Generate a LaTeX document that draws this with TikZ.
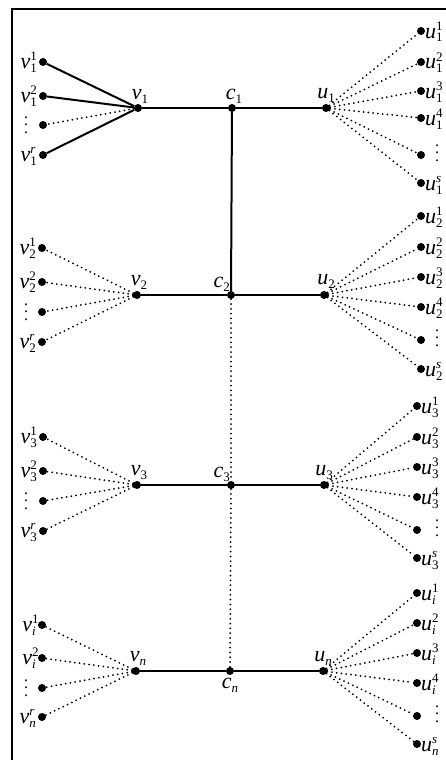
\documentclass[tikz,border=0pt]{standalone}
\usepackage{fontspec}
\setmainfont{Liberation Serif}
\newcommand\lbsup[3]{{\fontsize{22}{22}\selectfont\itshape #1}\makebox[0pt][l]{\raisebox{7.5pt}{\fontsize{13}{13}\selectfont #2}}\raisebox{-4pt}{\fontsize{13}{13}\selectfont #3}}
\newcommand\lbsub[2]{{\fontsize{22}{22}\selectfont\itshape #1}\raisebox{-4pt}{\fontsize{13}{13}\selectfont #2}}
\newcommand\vdts{\fontsize{16}{16}\selectfont\vbox{\baselineskip7.5pt\lineskiplimit0pt\hbox{.}\hbox{.}\hbox{.}}}
\begin{document}
\begin{tikzpicture}[x=1pt,y=-1pt,
  dotn/.style={circle,fill=black,inner sep=0pt,minimum size=8pt},
  solidln/.style={line width=2pt},
  dotln/.style={line width=2pt,dash pattern=on 0pt off 4.8pt,line cap=round},
  lab/.style={inner sep=0pt}]
\useasboundingbox (0,0) rectangle (446,760);
\fill[white] (0,0) rectangle (446,760);
\draw[line width=2.2pt] (447,9) -- (12,9) -- (12,762);

% hubs
\node[dotn] (v1) at (138,108) {};
\node[dotn] (c1) at (232,108) {};
\node[dotn] (u1) at (326,108) {};
\node[dotn] (v2) at (137,295) {};
\node[dotn] (c2) at (231,295) {};
\node[dotn] (u2) at (324,295) {};
\node[dotn] (v3) at (137,485) {};
\node[dotn] (c3) at (231,485) {};
\node[dotn] (u3) at (324,485) {};
\node[dotn] (vn) at (136,671) {};
\node[dotn] (cn) at (230,671) {};
\node[dotn] (un) at (323,671) {};

% hub labels
\node[lab,anchor=south] (lv1) at ([xshift=2pt,yshift=0pt]v1.north) {\lbsub{v}{1}};
\node[lab,anchor=south] (lc1) at ([xshift=2pt,yshift=0pt]c1.north) {\lbsub{c}{1}};
\node[lab,anchor=south] (lu1) at ([xshift=0pt,yshift=1pt]u1.north) {\lbsub{u}{1}};
\node[lab,anchor=south] (lv2) at ([xshift=2pt,yshift=1pt]v2.north) {\lbsub{v}{2}};
\node[lab,anchor=south east] (lc2) at ([xshift=-1pt,yshift=3pt]c2.center) {\lbsub{c}{2}};
\node[lab,anchor=south] (lu2) at ([xshift=2pt,yshift=2pt]u2.north) {\lbsub{u}{2}};
\node[lab,anchor=south] (lv3) at ([xshift=2pt,yshift=1pt]v3.north) {\lbsub{v}{3}};
\node[lab,anchor=south east] (lc3) at ([xshift=-1pt,yshift=3pt]c3.center) {\lbsub{c}{3}};
\node[lab,anchor=south] (lu3) at ([xshift=0pt,yshift=1pt]u3.north) {\lbsub{u}{3}};
\node[lab,anchor=south] (lvn) at ([xshift=2pt,yshift=1pt]vn.north) {\lbsub{v}{\textit{n}}};
\node[lab,anchor=north] (lcn) at ([yshift=-3pt]cn.south) {\lbsub{c}{\textit{n}}};
\node[lab,anchor=south] (lun) at ([xshift=0pt,yshift=1pt]un.north) {\lbsub{u}{\textit{n}}};

% spine
\draw[solidln] (v1) -- (c1) -- (u1);
\draw[solidln] (v2) -- (c2) -- (u2);
\draw[solidln] (v3) -- (c3) -- (u3);
\draw[solidln] (vn) -- (cn) -- (un);
\draw[solidln] (c1) -- (c2);
\draw[dotln] (c2) -- (c3) -- (cn);

% leaves
\foreach \ga/\sbA/\sbB/\sty/\lx/\ya/\yb/\yd/\yr/\rx/\ra/\rb/\rc/\rd/\re/\rf in {
  1/1/1/solidln/43/62/96/125/155/421/31/62/91/118/155/183,
  2/2/2/dotln/42/248/282/312/342/421/216/247/277/307/340/369,
  3/3/3/dotln/43/437/471/501/531/417/406/437/467/497/530/558,
  n/\textit{i}/\textit{n}/dotln/42/625/658/688/717/417/593/623/653/683/716/744}{
  \node[dotn] (v\ga a) at (\lx,\ya) {};
  \node[dotn] (v\ga b) at (\lx,\yb) {};
  \node[dotn] (v\ga d) at (\lx,\yd) {};
  \node[dotn] (v\ga r) at (\lx,\yr) {};
  \node[lab,anchor=base east] (lv\ga a) at ([xshift=-6pt,yshift=-6pt]v\ga a.center) {\lbsup{v}{1}{\sbA}};
  \node[lab,anchor=base east] (lv\ga b) at ([xshift=-6pt,yshift=-6pt]v\ga b.center) {\lbsup{v}{2}{\sbA}};
  \node[lab] (lv\ga d) at (26,\yd) {\vdts};
  \node[lab,anchor=base east] (lv\ga r) at ([xshift=-6pt,yshift=-6pt]v\ga r.center) {\lbsup{v}{\textit{r}}{\sbB}};
  \draw[\sty] (v\ga) -- (v\ga a);
  \draw[\sty] (v\ga) -- (v\ga b);
  \draw[dotln] (v\ga) -- (v\ga d);
  \draw[\sty] (v\ga) -- (v\ga r);
  \node[dotn] (u\ga a) at (\rx,\ra) {};
  \node[dotn] (u\ga b) at (\rx,\rb) {};
  \node[dotn] (u\ga c) at (\rx,\rc) {};
  \node[dotn] (u\ga d) at (\rx,\rd) {};
  \node[dotn] (u\ga e) at (\rx,\re) {};
  \node[dotn] (u\ga f) at (\rx,\rf) {};
  \node[lab,anchor=base west] (lu\ga a) at ([xshift=4pt,yshift=-7pt]u\ga a.center) {\lbsup{u}{1}{\sbA}};
  \node[lab,anchor=base west] (lu\ga b) at ([xshift=4pt,yshift=-7pt]u\ga b.center) {\lbsup{u}{2}{\sbA}};
  \node[lab,anchor=base west] (lu\ga c) at ([xshift=4pt,yshift=-7pt]u\ga c.center) {\lbsup{u}{3}{\sbA}};
  \node[lab,anchor=base west] (lu\ga d) at ([xshift=4pt,yshift=-7pt]u\ga d.center) {\lbsup{u}{4}{\sbA}};
  \node[lab] (lu\ga e) at (437,\re-2) {\vdts};
  \node[lab,anchor=base west] (lu\ga f) at ([xshift=4pt,yshift=-7pt]u\ga f.center) {\lbsup{u}{\textit{s}}{\sbB}};
  \foreach \k in {a,b,c,d,e,f}{\draw[dotln] (u\ga) -- (u\ga\k);}
}
\end{tikzpicture}
\end{document}
